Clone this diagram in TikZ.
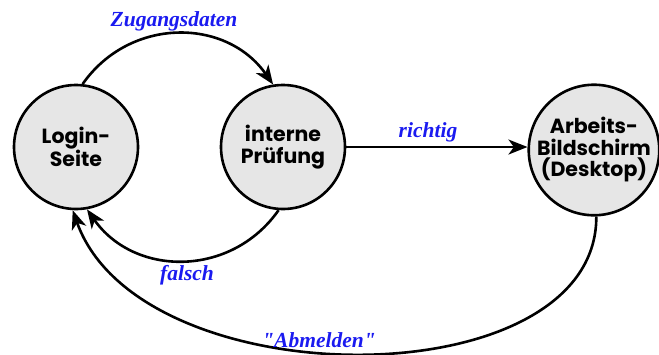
\documentclass[tikz,border=0pt]{standalone}
\usepackage{fontspec}
\setmainfont{Liberation Serif}
\newfontfamily\statefont{Poppins}
\newfontfamily\labelfont{Liberation Serif}[Ligatures=TeXOff]
\usetikzlibrary{arrows.meta}
\definecolor{statefill}{HTML}{E6E6E6}
\definecolor{labelblue}{HTML}{1A1AF0}
\begin{document}
\begin{tikzpicture}[x=1pt,y=-1pt,
  state/.style={circle,draw=black,line width=2.6pt,fill=statefill,
    minimum size=124pt,inner sep=0pt,align=center,
    font=\statefont\bfseries\fontsize{20.5}{21.5}\selectfont},
  trans/.style={line width=2.6pt,-{Stealth[length=19pt,width=15pt,inset=5.5pt]}},
  lbl/.style={text=labelblue,font=\labelfont\bfseries\itshape\fontsize{21.5}{22}\selectfont}]
\useasboundingbox (0,0) rectangle (659,354);
\node[state] (login) at (76,147) {Login-\\Seite};
\node[state] (check) at (283,147) {interne\\Prüfung};
\node[state] (desk) at (594,150) {Arbeits-\\Bildschirm\\(Desktop)};

\draw[trans] (login.84) to[out=55,in=125,looseness=1.1] (check.99);
\draw[trans] (check.-94) to[out=-125,in=-55,looseness=1.1] (login.-80);
\draw[trans] (check.east) -- (desk.west |- check.east);
\draw[trans] (desk.-88) .. controls (597,400) and (140,400) .. (login.-93);

\node[lbl] (l1) at (174,21) {Zugangsdaten};
\node[lbl] (l2) at (428,132) {richtig};
\node[lbl] (l3) at (187,275) {falsch};
\node[lbl] (l4) at (319,340) {"Abmelden"};
\end{tikzpicture}
\end{document}
